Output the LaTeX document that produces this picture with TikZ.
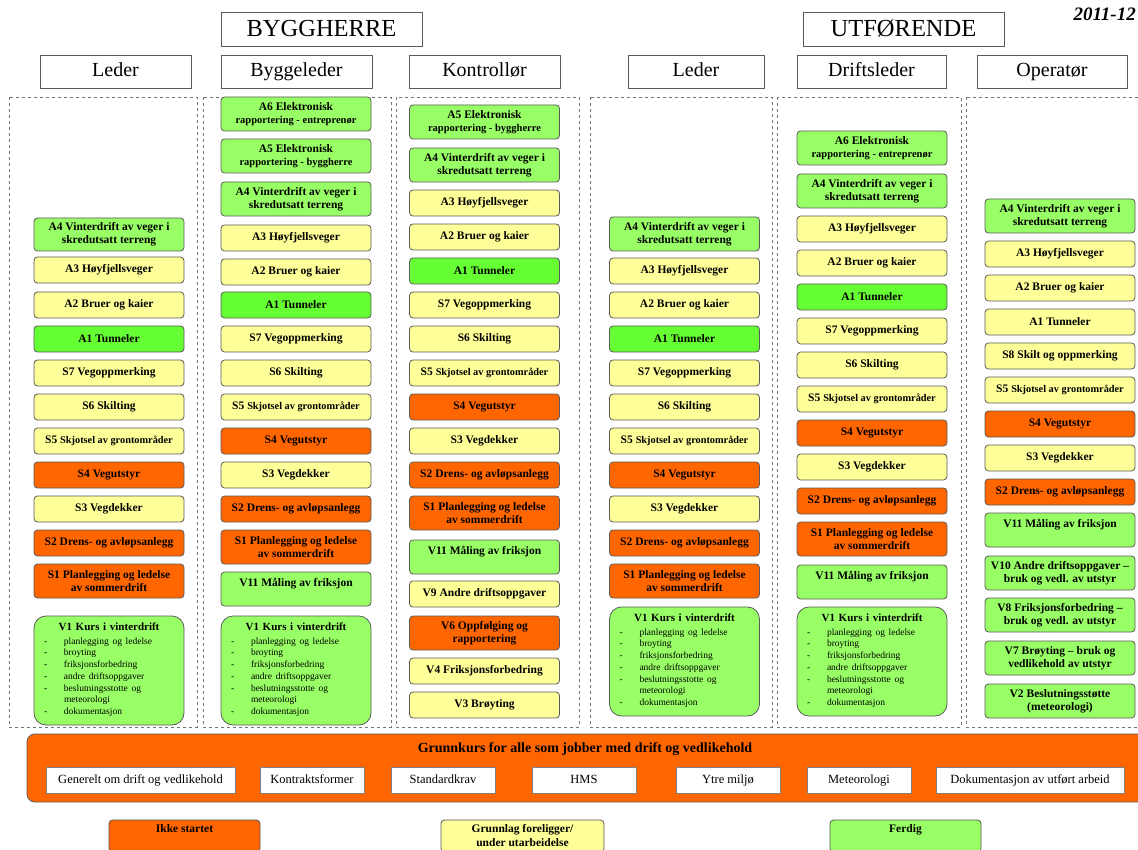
\documentclass[tikz,border=0pt]{standalone}
\usepackage{fontspec}
\setmainfont{Liberation Serif}
\definecolor{cOr}{HTML}{FF6600}
\definecolor{cYe}{HTML}{FFFF99}
\definecolor{cLg}{HTML}{99FF66}
\definecolor{cBg}{HTML}{66FF33}
\definecolor{cLine}{HTML}{5A5A5A}
\newcommand\bx[6]{\node[tbox,#5,minimum height={(#4-#3)*1pt}] (#1) at (#2,{(#3+#4)/2}) {#6};}
\newcommand\sfive{S5 {\fontsize{10.3}{11}\selectfont Skjotsel av grontområder}}
\newcommand\elek[2]{A#1 Elektronisk\\{\fontsize{10.5}{11}\selectfont rapportering - #2}}
\newcommand\vonelist{\textbf{V1 Kurs i vinterdrift}\\[0.5pt]
\makebox[140pt][l]{\mdseries\fontsize{9.5}{11.7}\selectfont\begin{tabular}[t]{@{\hspace{5pt}}p{20pt}@{}l@{}}
- & planlegging og ledelse\\
- & broyting\\
- & friksjonsforbedring\\
- & andre driftsoppgaver\\
- & beslutningsstotte og\\
  & meteorologi\\
- & dokumentasjon
\end{tabular}}}
\begin{document}
\begin{tikzpicture}[x=1pt,y=-1pt,
  hdr/.style={draw=cLine,line width=0.7pt,fill=white,inner sep=0pt,
    text height=17pt,text depth=1pt,font=\fontsize{24.5}{26}\selectfont},
  role/.style={draw=cLine,line width=0.7pt,fill=white,inner sep=0pt,
    minimum height=33pt,text height=13.5pt,text depth=4.5pt,font=\fontsize{20}{22}\selectfont},
  colframe/.style={draw=black!55,dashed,line width=0.6pt},
  tbox/.style={draw=cLine,line width=0.8pt,rounded corners=3.5pt,align=center,
    minimum width=150pt,inner sep=1pt,font=\bfseries\fontsize{11.5}{13}\selectfont},
  vbox/.style={tbox,fill=cLg,rounded corners=12pt,text width=140pt,inner sep=5pt,
    font=\bfseries\fontsize{11}{13}\selectfont},
  fOr/.style={fill=cOr},
  fYe/.style={fill=cYe},
  fLg/.style={fill=cLg},
  fBg/.style={fill=cBg},
  wbox/.style={draw=black!50,line width=0.7pt,fill=white,inner sep=0pt,
    minimum height=26pt,text height=9pt,text depth=2.5pt,font=\fontsize{12.5}{14}\selectfont},
  lgd/.style={tbox,font=\bfseries\fontsize{11.5}{14}\selectfont,minimum height=32pt}]
\useasboundingbox (0,0) rectangle (1138,850);

% headers
\node[hdr,minimum width=201pt,minimum height=34pt] (bh) at (321.5,29) {BYGGHERRE};
\node[hdr,minimum width=201pt,minimum height=34pt] (ut) at (903.5,29) {UTFØRENDE};
\node[anchor=east,inner sep=0pt,font=\bfseries\itshape\fontsize{19}{21}\selectfont] (yr) at (1136,14) {2011-12};
\node[role,minimum width=151pt] (r1) at (115.5,72) {Leder};
\node[role,minimum width=151pt] (r2) at (296.5,72) {Byggeleder};
\node[role,minimum width=151pt] (r3) at (484.5,72) {Kontrollør};
\node[role,minimum width=136pt] (r4) at (696,72) {Leder};
\node[role,minimum width=149pt] (r5) at (871.5,72) {Driftsleder};
\node[role,minimum width=150pt] (r6) at (1052,72) {Operatør};

% dashed columns
\draw[colframe] (9,97) rectangle (197,727);
\draw[colframe] (203,97) rectangle (391,727);
\draw[colframe] (396,97) rectangle (579,727);
\draw[colframe] (590,97) rectangle (772,727);
\draw[colframe] (777,97) rectangle (961,727);
\draw[colframe] (966,97) rectangle (1145,727);

% column 1
\bx{aA4}{109}{218}{251}{fLg}{A4 Vinterdrift av veger i\\skredutsatt terreng}
\bx{aA3}{109}{257}{283}{fYe}{A3 Høyfjellsveger}
\bx{aA2}{109}{292}{318}{fYe}{A2 Bruer og kaier}
\bx{aA1}{109}{326}{352}{fBg}{A1 Tunneler}
\bx{aS7}{109}{360}{386}{fYe}{S7 Vegoppmerking}
\bx{aS6}{109}{394}{420}{fYe}{S6 Skilting}
\bx{aS5}{109}{428}{454}{fYe}{\sfive}
\bx{aS4}{109}{462}{488}{fOr}{S4 Vegutstyr}
\bx{aS3}{109}{496}{522}{fYe}{S3 Vegdekker}
\bx{aS2}{109}{530}{556}{fOr}{S2 Drens- og avløpsanlegg}
\bx{aS1}{109}{564}{598}{fOr}{S1 Planlegging og ledelse\\av sommerdrift}
\node[vbox,minimum height=109pt] (aV1) at (109,670.5) {\vonelist};

% column 2
\bx{bA6}{296}{97}{131}{fLg}{\elek{6}{entreprenør}}
\bx{bA5}{296}{139}{173}{fLg}{\elek{5}{byggherre}}
\bx{bA4}{296}{182}{216}{fLg}{A4 Vinterdrift av veger i\\skredutsatt terreng}
\bx{bA3}{296}{225}{251}{fYe}{A3 Høyfjellsveger}
\bx{bA2}{296}{259}{285}{fYe}{A2 Bruer og kaier}
\bx{bA1}{296}{292}{318}{fBg}{A1 Tunneler}
\bx{bS7}{296}{326}{352}{fYe}{S7 Vegoppmerking}
\bx{bS6}{296}{360}{386}{fYe}{S6 Skilting}
\bx{bS5}{296}{394}{420}{fYe}{\sfive}
\bx{bS4}{296}{428}{454}{fOr}{S4 Vegutstyr}
\bx{bS3}{296}{462}{488}{fYe}{S3 Vegdekker}
\bx{bS2}{296}{496}{522}{fOr}{S2 Drens- og avløpsanlegg}
\bx{bS1}{296}{530}{564}{fOr}{S1 Planlegging og ledelse\\av sommerdrift}
\bx{bV11}{296}{572}{606}{fLg}{V11 Måling av friksjon\\\mbox{}}
\node[vbox,minimum height=109pt] (bV1) at (296,670.5) {\vonelist};

% column 3
\bx{cA5}{484.5}{105}{139}{fLg}{\elek{5}{byggherre}}
\bx{cA4}{484.5}{148}{182}{fLg}{A4 Vinterdrift av veger i\\skredutsatt terreng}
\bx{cA3}{484.5}{190}{216}{fYe}{A3 Høyfjellsveger}
\bx{cA2}{484.5}{224}{250}{fYe}{A2 Bruer og kaier}
\bx{cA1}{484.5}{258}{284}{fBg}{A1 Tunneler}
\bx{cS7}{484.5}{292}{318}{fYe}{S7 Vegoppmerking}
\bx{cS6}{484.5}{326}{352}{fYe}{S6 Skilting}
\bx{cS5}{484.5}{360}{386}{fYe}{\sfive}
\bx{cS4}{484.5}{394}{420}{fOr}{S4 Vegutstyr}
\bx{cS3}{484.5}{428}{454}{fYe}{S3 Vegdekker}
\bx{cS2}{484.5}{462}{488}{fOr}{S2 Drens- og avløpsanlegg}
\bx{cS1}{484.5}{496}{530}{fOr}{S1 Planlegging og ledelse\\av sommerdrift}
\bx{cV11}{484.5}{540}{574}{fLg}{V11 Måling av friksjon\\\mbox{}}
\bx{cV9}{484.5}{581}{607}{fYe}{V9 Andre driftsoppgaver}
\bx{cV6}{484.5}{616}{650}{fOr}{V6 Oppfølging og\\rapportering}
\bx{cV4}{484.5}{658}{684}{fYe}{V4 Friksjonsforbedring}
\bx{cV3}{484.5}{692}{718}{fYe}{V3 Brøyting}

% column 4
\bx{dA4}{684.5}{217}{251}{fLg}{A4 Vinterdrift av veger i\\skredutsatt terreng}
\bx{dA3}{684.5}{258}{284}{fYe}{A3 Høyfjellsveger}
\bx{dA2}{684.5}{292}{318}{fYe}{A2 Bruer og kaier}
\bx{dA1}{684.5}{326}{352}{fBg}{A1 Tunneler}
\bx{dS7}{684.5}{360}{386}{fYe}{S7 Vegoppmerking}
\bx{dS6}{684.5}{394}{420}{fYe}{S6 Skilting}
\bx{dS5}{684.5}{428}{454}{fYe}{\sfive}
\bx{dS4}{684.5}{462}{488}{fOr}{S4 Vegutstyr}
\bx{dS3}{684.5}{496}{522}{fYe}{S3 Vegdekker}
\bx{dS2}{684.5}{530}{556}{fOr}{S2 Drens- og avløpsanlegg}
\bx{dS1}{684.5}{564}{598}{fOr}{S1 Planlegging og ledelse\\av sommerdrift}
\node[vbox,minimum height=109pt] (dV1) at (684.5,661.5) {\vonelist};

% column 5
\bx{eA6}{872}{131}{165}{fLg}{\elek{6}{entreprenør}}
\bx{eA4}{872}{174}{208}{fLg}{A4 Vinterdrift av veger i\\skredutsatt terreng}
\bx{eA3}{872}{216}{242}{fYe}{A3 Høyfjellsveger}
\bx{eA2}{872}{250}{276}{fYe}{A2 Bruer og kaier}
\bx{eA1}{872}{284}{310}{fBg}{A1 Tunneler}
\bx{eS7}{872}{318}{344}{fYe}{S7 Vegoppmerking}
\bx{eS6}{872}{352}{378}{fYe}{S6 Skilting}
\bx{eS5}{872}{386}{412}{fYe}{\sfive}
\bx{eS4}{872}{420}{446}{fOr}{S4 Vegutstyr}
\bx{eS3}{872}{454}{480}{fYe}{S3 Vegdekker}
\bx{eS2}{872}{488}{514}{fOr}{S2 Drens- og avløpsanlegg}
\bx{eS1}{872}{522}{556}{fOr}{S1 Planlegging og ledelse\\av sommerdrift}
\bx{eV11}{872}{565}{599}{fLg}{V11 Måling av friksjon\\\mbox{}}
\node[vbox,minimum height=109pt] (eV1) at (872,661.5) {\vonelist};

% column 6
\bx{fA4}{1060}{199}{233}{fLg}{A4 Vinterdrift av veger i\\skredutsatt terreng}
\bx{fA3}{1060}{241}{267}{fYe}{A3 Høyfjellsveger}
\bx{fA2}{1060}{275}{301}{fYe}{A2 Bruer og kaier}
\bx{fA1}{1060}{309}{335}{fYe}{A1 Tunneler}
\bx{fS8}{1060}{343}{369}{fYe}{S8 Skilt og oppmerking}
\bx{fS5}{1060}{377}{403}{fYe}{\sfive}
\bx{fS4}{1060}{411}{437}{fOr}{S4 Vegutstyr}
\bx{fS3}{1060}{445}{471}{fYe}{S3 Vegdekker}
\bx{fS2}{1060}{479}{505}{fOr}{S2 Drens- og avløpsanlegg}
\bx{fV11}{1060}{513}{547}{fLg}{V11 Måling av friksjon\\\mbox{}}
\bx{fV10}{1060}{556}{590}{fLg}{V10 Andre driftsoppgaver –\\bruk og vedl. av utstyr}
\bx{fV8}{1060}{598}{632}{fLg}{V8 Friksjonsforbedring –\\bruk og vedl. av utstyr}
\bx{fV7}{1060}{641}{675}{fLg}{V7 Brøyting – bruk og\\vedlikehold av utstyr}
\bx{fV2}{1060}{684}{718}{fLg}{V2 Beslutningsstøtte\\(meteorologi)}

% grunnkurs
\node[draw=cLine,line width=0.8pt,fill=cOr,rounded corners=8pt,minimum width=1118pt,
  minimum height=68pt,inner sep=0pt] (gk) at (586,768) {};
\node[inner sep=0pt,font=\bfseries\fontsize{14}{16}\selectfont] (gkt) at (585,749) {Grunnkurs for alle som jobber med drift og vedlikehold};
\node[wbox,minimum width=189pt] (g1) at (140.5,780) {Generelt om drift og vedlikehold};
\node[wbox,minimum width=104pt] (g2) at (312,780) {Kontraktsformer};
\node[wbox,minimum width=104pt] (g3) at (443,780) {Standardkrav};
\node[wbox,minimum width=104pt] (g4) at (584,780) {HMS};
\node[wbox,minimum width=104pt] (g5) at (728,780) {Ytre miljø};
\node[wbox,minimum width=104pt] (g6) at (859,780) {Meteorologi};
\node[wbox,minimum width=188pt] (g7) at (1030,780) {Dokumentasjon av utført arbeid};

% legend
\node[lgd,fOr,minimum width=151pt] (l1) at (184.5,836) {Ikke startet\\\mbox{}};
\node[lgd,fYe,minimum width=163pt] (l2) at (522.5,836) {Grunnlag foreligger/\\under utarbeidelse};
\node[lgd,fLg,minimum width=151pt] (l3) at (905.5,836) {Ferdig\\\mbox{}};
\end{tikzpicture}
\end{document}
